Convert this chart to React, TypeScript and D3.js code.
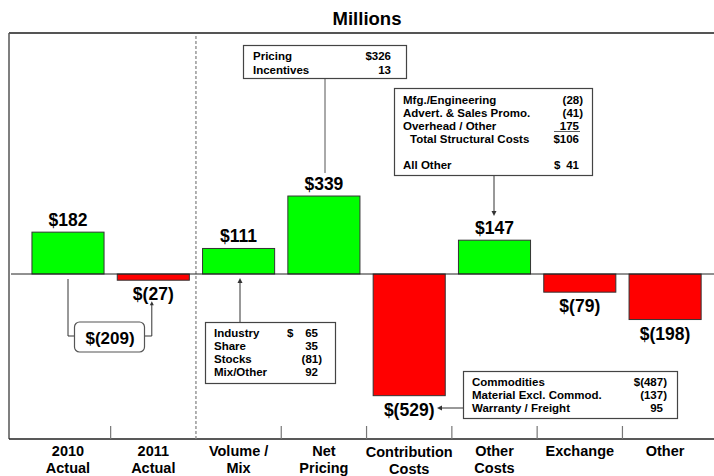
import React from "react";
import * as d3 from "d3";

const categories = ["2010|Actual", "2011|Actual", "Volume /|Mix", "Net|Pricing", "Contribution|Costs", "Other|Costs", "Exchange", "Other"];
const values = [182, -27, 111, 339, -529, 147, -79, -198];
const valueLabels = ["$182", "$(27)", "$111", "$339", "$(529)", "$147", "$(79)", "$(198)"];
const changeLabel = "$(209)";

const pricingLabels = ["Pricing", "Incentives"];
const pricingValues = ["$326", "13"];

const structLabels = ["Mfg./Engineering", "Advert. & Sales Promo.", "Overhead / Other", "Total Structural Costs", "", "All Other"];
const structValues = ["(28)", "(41)", "175", "$106", "", "$  41"];

const volumeLabels = ["Industry", "Share", "Stocks", "Mix/Other"];
const volumeValues = ["$   65", "35", "(81)", "92"];

const commodLabels = ["Commodities", "Material Excl. Commod.", "Warranty / Freight"];
const commodValues = ["$(487)", "(137)", "95"];

const FONT = "'Liberation Sans', Arial, sans-serif";
const W = 714;
const H = 476;
const CF = 11.5;

function Arrow({ x1, y1, x2, y2 }: { x1: number; y1: number; x2: number; y2: number }) {
  const ang = Math.atan2(y2 - y1, x2 - x1);
  const L = 5, Wd = 2.5;
  const bx = x2 - L * Math.cos(ang), by = y2 - L * Math.sin(ang);
  const px = -Math.sin(ang) * Wd, py = Math.cos(ang) * Wd;
  return (
    <g>
      <line x1={x1} y1={y1} x2={bx} y2={by} stroke="#333" strokeWidth={1} />
      <path d={`M${x2},${y2}L${bx + px},${by + py}L${bx - px},${by - py}Z`} fill="#333" />
    </g>
  );
}

function valText(v: string, xr: number) {
  return v.endsWith(")") ? xr + 4 : xr;
}

export default function App() {
  const x = d3.scaleBand<string>().domain(categories).range([25.35, 707.75]).padding(0);
  const y = d3.scaleLinear().domain([-600, 400]).range([412, 182]);
  const y0 = y(0);
  const bw = x.bandwidth() * 0.845;
  const cx = (c: string) => (x(c) as number) + x.bandwidth() / 2;

  const frameTop = 33;
  const axisY = 439;
  const frameLeft = 9;

  const dashX = x(categories[2]) as number;

  return (
    <svg width={W} height={H} style={{ position: "absolute", left: 0, top: 0, background: "#fff" }} fontFamily={FONT}>
      <rect x={0} y={0} width={W} height={H} fill="#fff" />
      <text x={367} y={25} textAnchor="middle" fontSize={18.5} fontWeight="bold">Millions</text>

      <line x1={frameLeft} y1={frameTop} x2={W} y2={frameTop} stroke="#555" strokeWidth={2} />
      <line x1={frameLeft} y1={frameTop} x2={frameLeft} y2={axisY} stroke="#555" strokeWidth={1.5} />
      <line x1={frameLeft} y1={axisY} x2={W} y2={axisY} stroke="#222" strokeWidth={1.5} />

      <line x1={dashX} y1={36} x2={dashX} y2={axisY} stroke="#888" strokeWidth={1.3} strokeDasharray="3,2" />

      {categories.slice(1).map((c, i) =>
        i + 1 === 2 ? null : (
          <line key={c} x1={x(c) as number} x2={x(c) as number} y1={426} y2={axisY} stroke="#777" strokeWidth={1.2} />
        )
      )}

      {categories.map((c, i) => {
        const v = values[i];
        const top = Math.min(y(v), y0);
        const h = Math.abs(y(v) - y0);
        return (
          <rect key={c} x={cx(c) - bw / 2} y={top} width={bw} height={h}
            fill={v >= 0 ? "#00ff00" : "#ff0000"} stroke="#333" strokeWidth={1} />
        );
      })}

      <line x1={11} x2={W} y1={y0} y2={y0} stroke="#222" strokeWidth={1} />

      {categories.map((c, i) => {
        const v = values[i];
        const ty = v >= 0 ? y(v) - 6 : y(v) + 20;
        return (
          <text key={c} x={cx(c)} y={ty} textAnchor="middle" fontSize={17.5} fontWeight="bold">{valueLabels[i]}</text>
        );
      })}

      {categories.map((c) => {
        const lines = c.split("|");
        const base = c.startsWith("Contribution") ? 457 : 456;
        return (
          <g key={c}>
            {lines.map((l, j) => (
              <text key={j} x={cx(c)} y={base + j * 16.5} textAnchor="middle" fontSize={14.5} fontWeight="bold">{l}</text>
            ))}
          </g>
        );
      })}

      <g>
        <path d={`M${cx(categories[0])},${y0 + 5}V336H75`} fill="none" stroke="#333" strokeWidth={1} />
        <path d={`M145,336H${cx(categories[1]) - 1.5}V${y(values[1]) + 23}`} fill="none" stroke="#333" strokeWidth={1} />
        <path d={`M${cx(categories[1]) - 1.5},${y(values[1]) + 21}l-2,4h4z`} fill="#333" />
        <rect x={74.5} y={322} width={70} height={30} rx={5} fill="#fff" stroke="#555" strokeWidth={1.2} />
        <text x={110} y={344} textAnchor="middle" fontSize={17} fontWeight="bold">{changeLabel}</text>
      </g>

      <g fontSize={CF} fontWeight="bold">
        <line x1={325} y1={79} x2={325} y2={173} stroke="#555" strokeWidth={1} />
        <rect x={243.5} y={45.5} width={163} height={33} fill="#fff" stroke="#444" strokeWidth={1.2} />
        {pricingLabels.map((l, i) => (
          <text key={l} x={253} y={60 + i * 13.5}>{l}</text>
        ))}
        {pricingValues.map((v, i) => (
          <text key={i} x={391} y={60 + i * 13.5} textAnchor="end">{v}</text>
        ))}
      </g>

      <g fontSize={CF} fontWeight="bold">
        <Arrow x1={494} y1={176} x2={494} y2={216} />
        <rect x={394.5} y={88.5} width={198} height={87} fill="#fff" stroke="#444" strokeWidth={1.2} />
        {structLabels.map((l, i) => (
          <text key={i} x={l.startsWith("Total") ? 410 : 403} y={104 + i * 13}>{l}</text>
        ))}
        {structValues.map((v, i) =>
          v.startsWith("$ ") ? (
            <g key={i}>
              <text x={554} y={104 + i * 13}>$</text>
              <text x={579} y={104 + i * 13} textAnchor="end">{v.replace(/\$\s+/, "")}</text>
            </g>
          ) : (
            <text key={i} x={valText(v, 579)} y={104 + i * 13} textAnchor="end">{v}</text>
          )
        )}
        <line x1={554} x2={580} y1={131.5} y2={131.5} stroke="#333" strokeWidth={0.8} />
      </g>

      <g fontSize={CF} fontWeight="bold">
        <Arrow x1={240} y1={323} x2={240} y2={y0 + 4} />
        <rect x={205.5} y={322.5} width={130} height={61} fill="#fff" stroke="#444" strokeWidth={1.2} />
        {volumeLabels.map((l, i) => (
          <text key={l} x={214} y={337 + i * 13}>{l}</text>
        ))}
        {volumeValues.map((v, i) =>
          v.startsWith("$") ? (
            <g key={i}>
              <text x={287} y={337 + i * 13}>$</text>
              <text x={318} y={337 + i * 13} textAnchor="end">{v.replace(/\$\s+/, "")}</text>
            </g>
          ) : (
            <text key={i} x={valText(v, 318)} y={337 + i * 13} textAnchor="end">{v}</text>
          )
        )}
      </g>

      <g fontSize={CF} fontWeight="bold">
        <Arrow x1={463} y1={408} x2={437} y2={408} />
        <rect x={463.5} y={371.5} width={214} height={47} fill="#fff" stroke="#444" strokeWidth={1.2} />
        {commodLabels.map((l, i) => (
          <text key={l} x={472} y={386 + i * 13}>{l}</text>
        ))}
        {commodValues.map((v, i) => (
          <text key={i} x={valText(v, 663)} y={386 + i * 13} textAnchor="end">{v}</text>
        ))}
      </g>
    </svg>
  );
}
